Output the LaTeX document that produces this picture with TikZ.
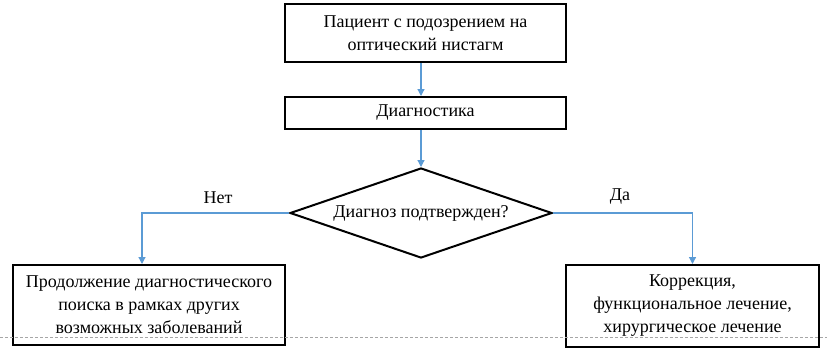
\documentclass[tikz,border=0pt]{standalone}
\usepackage{fontspec}
\setmainfont{Liberation Serif}
\usetikzlibrary{shapes.geometric,arrows.meta}
\definecolor{arrblue}{RGB}{91,155,213}
\begin{document}
\begin{tikzpicture}[x=1pt,y=-1pt,
  box/.style={draw=black,line width=2pt,rectangle,inner sep=0pt,align=center,
    font=\fontsize{18}{23}\selectfont},
  dec/.style={draw=black,line width=2pt,diamond,inner sep=0pt,aspect=2.9,
    font=\fontsize{18}{23}\selectfont},
  arr/.style={draw=arrblue,line width=1.2pt,-{Triangle[width=7pt,length=7pt]}},
  lbl/.style={font=\fontsize{18}{23}\selectfont,inner sep=0pt}]
\useasboundingbox (0,0) rectangle (827,351);
\fill[white] (0,0) rectangle (827,351);
\node[box,minimum width=281pt,minimum height=58pt] (top) at (425.5,33) {Пациент с подозрением на\\оптический нистагм};
\node[box,minimum width=281pt,minimum height=32pt] (diag) at (425.5,113) {Диагностика};
\node[dec,minimum width=262pt,minimum height=90pt] (dia) at (421,213) {Диагноз подтвержден?};
\node[box,minimum width=272pt,minimum height=80pt] (left) at (149,305) {Продолжение диагностического\\поиска в рамках других\\возможных заболеваний};
\node[box,minimum width=253pt,minimum height=82pt] (right) at (692.5,306) {Коррекция,\\функциональное лечение,\\хирургическое лечение};
\coordinate (nl) at (142,213);
\draw[arr] (top.south -| dia.north) -- (diag.north -| dia.north);
\draw[arr] (diag.south -| dia.north) -- (dia.north);
\draw[arr] (dia.west) -- (nl) -- (nl |- left.north);
\draw[arr] (dia.east) -| (right.north);
\node[lbl] (no) at (218,198) {Нет};
\node[lbl] (yes) at (620,197) {Да};
\draw[gray!70,line width=0.8pt,dash pattern=on 2.5pt off 2.5pt] (0,337) -- (827,337);
\end{tikzpicture}
\end{document}
